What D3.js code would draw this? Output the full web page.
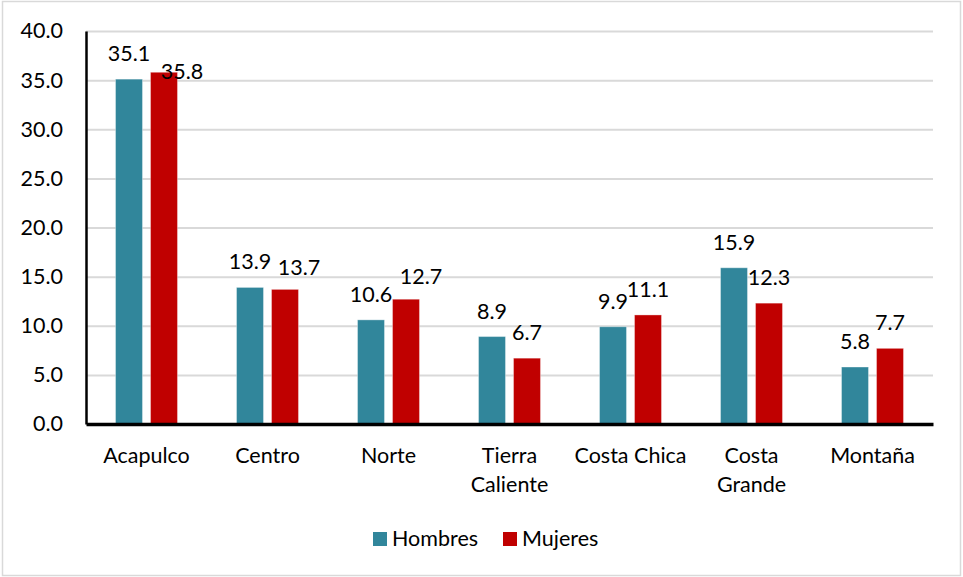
<!DOCTYPE html>
<html>
<head>
<meta charset="utf-8">
<script src="https://cdn.jsdelivr.net/npm/d3@7"></script>
<style>
  body { margin: 0; background: #fff; }
  svg { display: block; font-family: Lato, "Open Sans", sans-serif; }
</style>
</head>
<body>
<svg width="963" height="577"></svg>
<script>
const categories = ["Acapulco", "Centro", "Norte", "Tierra Caliente", "Costa Chica", "Costa Grande", "Montaña"];
const categoryLines = [["Acapulco"], ["Centro"], ["Norte"], ["Tierra", "Caliente"], ["Costa Chica"], ["Costa", "Grande"], ["Montaña"]];
const hombres = [35.1, 13.9, 10.6, 8.9, 9.9, 15.9, 5.8];
const mujeres = [35.8, 13.7, 12.7, 6.7, 11.1, 12.3, 7.7];
const yTicks = [0, 5, 10, 15, 20, 25, 30, 35, 40];
const seriesNames = ["Hombres", "Mujeres"];

// manual nudges of the data labels, as placed in the original chart
const labelNudge = {
  Hombres: [[0, 0], [0, 0], [0, 0], [0, 0], [0, 0], [0, 0], [0, 0]],
  Mujeres: [[18, 25], [14, 4], [15, 3], [0, 0], [0, 0], [0, 0], [0, 0]]
};

const svg = d3.select("svg");
const plot = { left: 86, right: 933, top: 31, bottom: 424 };
const fontSize = 21.5;

// outer frame
svg.append("rect")
  .attr("x", 2.5).attr("y", 1.5)
  .attr("width", 958).attr("height", 574)
  .attr("fill", "#fff")
  .attr("stroke", "#d9d9d9")
  .attr("stroke-width", 1.5);

const x0 = d3.scaleBand()
  .domain(categories)
  .range([plot.left, plot.right])
  .paddingInner(0.488)
  .paddingOuter(0.244);

const x1 = d3.scaleBand()
  .domain(seriesNames)
  .range([0, x0.bandwidth()])
  .paddingInner(0.23);

const y = d3.scaleLinear()
  .domain([0, 40])
  .range([plot.bottom, plot.top]);

const color = d3.scaleOrdinal()
  .domain(seriesNames)
  .range(["#31869b", "#c00000"]);

// Gridlines
const grid = svg.append("g")
  .attr("transform", `translate(${plot.left},0)`)
  .call(d3.axisLeft(y).tickValues(yTicks.filter(d => d > 0)).tickSize(-(plot.right - plot.left)).tickFormat(""));
grid.select(".domain").remove();
grid.selectAll("line").attr("stroke", "#d9d9d9").attr("stroke-width", 2);

// Bars
const data = categories.map((c, i) => ({ cat: c, i, Hombres: hombres[i], Mujeres: mujeres[i] }));

const groups = svg.selectAll("g.cat")
  .data(data)
  .enter().append("g")
  .attr("class", "cat")
  .attr("transform", d => `translate(${x0(d.cat)},0)`);

groups.selectAll("rect")
  .data(d => seriesNames.map(key => ({ key, value: d[key], i: d.i })))
  .enter().append("rect")
  .attr("x", d => x1(d.key))
  .attr("y", d => y(d.value))
  .attr("width", x1.bandwidth())
  .attr("height", d => y(0) - y(d.value))
  .attr("fill", d => color(d.key))
  .attr("stroke", "#fff")
  .attr("stroke-opacity", 0.35)
  .attr("stroke-width", 1);

groups.selectAll("text.lbl")
  .data(d => seriesNames.map(key => ({ key, value: d[key], i: d.i })))
  .enter().append("text")
  .attr("class", "lbl")
  .attr("x", d => x1(d.key) + x1.bandwidth() / 2 + labelNudge[d.key][d.i][0])
  .attr("y", d => y(d.value) - 18 + labelNudge[d.key][d.i][1])
  .attr("text-anchor", "middle")
  .attr("font-size", fontSize)
  .attr("fill", "#000")
  .text(d => d.value.toFixed(1));

// Y axis
const yAxis = svg.append("g")
  .attr("transform", `translate(${plot.left},0)`)
  .call(d3.axisLeft(y).tickValues(yTicks).tickFormat(d3.format(".1f")).tickSize(0).tickPadding(23));
yAxis.select(".domain").attr("stroke", "#000").attr("stroke-width", 2.5);
yAxis.selectAll("text").attr("font-size", fontSize).attr("font-family", "Lato").attr("fill", "#000");

// X axis
const xAxis = svg.append("g")
  .attr("transform", `translate(0,${plot.bottom})`)
  .call(d3.axisBottom(x0).tickSize(0).tickFormat(""));
xAxis.select(".domain").attr("stroke", "#000").attr("stroke-width", 3.5);
xAxis.selectAll(".tick").each(function (d, i) {
  const t = d3.select(this).append("text")
    .attr("fill", "#000")
    .attr("font-size", fontSize)
    .attr("font-family", "Lato")
    .attr("text-anchor", "middle")
    .attr("y", 39);
  categoryLines[i].forEach((line, k) => {
    t.append("tspan").attr("x", 0).attr("dy", k === 0 ? 0 : 29).text(line);
  });
});

// Legend
const legend = svg.append("g").attr("transform", "translate(373,532)");
const legendX = [0, 130];
seriesNames.forEach((s, i) => {
  const g = legend.append("g").attr("transform", `translate(${legendX[i]},0)`);
  g.append("rect").attr("width", 14).attr("height", 14).attr("fill", color(s));
  g.append("text").attr("x", 19).attr("y", 14).attr("font-size", fontSize).attr("fill", "#000").text(s);
});
</script>
</body>
</html>
